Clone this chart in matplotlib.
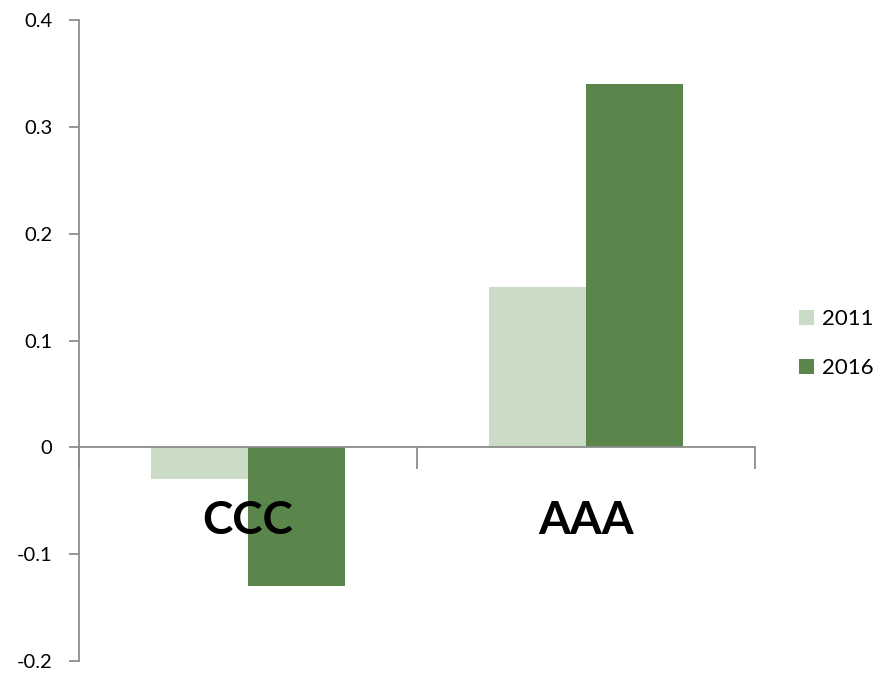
import numpy as np
import matplotlib
matplotlib.use('Agg')
import matplotlib.pyplot as plt

categories = ['CCC', 'AAA']
series_names = ['2011', '2016']
values_2011 = [-0.03, 0.15]
values_2016 = [-0.13, 0.34]
yticks = [-0.2, -0.1, 0, 0.1, 0.2, 0.3, 0.4]

plt.rcParams['font.family'] = ['Lato', 'DejaVu Sans']

fig = plt.figure(figsize=(8.77, 6.73), dpi=100)
ax = fig.add_axes([79 / 877, 12 / 673, (755 - 79) / 877, (661 - 20) / 673])

light = '#CADCC5'
dark = '#5A864C'
width = 0.286
x = np.arange(len(categories)) + 0.5

ax.bar(x - width / 2, values_2011, width, color=light, label=series_names[0])
ax.bar(x + width / 2, values_2016, width, color=dark, label=series_names[1])

ax.set_xlim(0, len(categories))
ax.set_ylim(-0.2, 0.4)
ax.set_yticks(yticks)
ax.set_yticklabels(['0' if v == 0 else f'{v:g}' for v in yticks], fontsize=14.5)

axis_gray = '#8C8C8C'
for s in ['top', 'right']:
    ax.spines[s].set_visible(False)
ax.spines['left'].set_color(axis_gray)
ax.spines['left'].set_linewidth(1.3)
ax.spines['bottom'].set_position(('data', 0))
ax.spines['bottom'].set_color(axis_gray)
ax.spines['bottom'].set_linewidth(1.3)

ax.tick_params(axis='y', direction='out', length=7, width=1.3, color=axis_gray, pad=12)
ax.set_xticks(np.arange(len(categories) + 1))
ax.set_xticklabels([])
ax.tick_params(axis='x', direction='out', length=16, width=1.3, color=axis_gray)

for xi, name in zip(x, categories):
    ax.text(xi, -0.069, name, ha='center', va='center', fontsize=33, fontweight='bold')

ax.legend(loc='center left', bbox_to_anchor=(1.035, 0.495), frameon=False,
          fontsize=16, handlelength=0.68, handleheight=0.68, labelspacing=1.3,
          handletextpad=0.35)

fig.savefig('out.png', dpi=100)
